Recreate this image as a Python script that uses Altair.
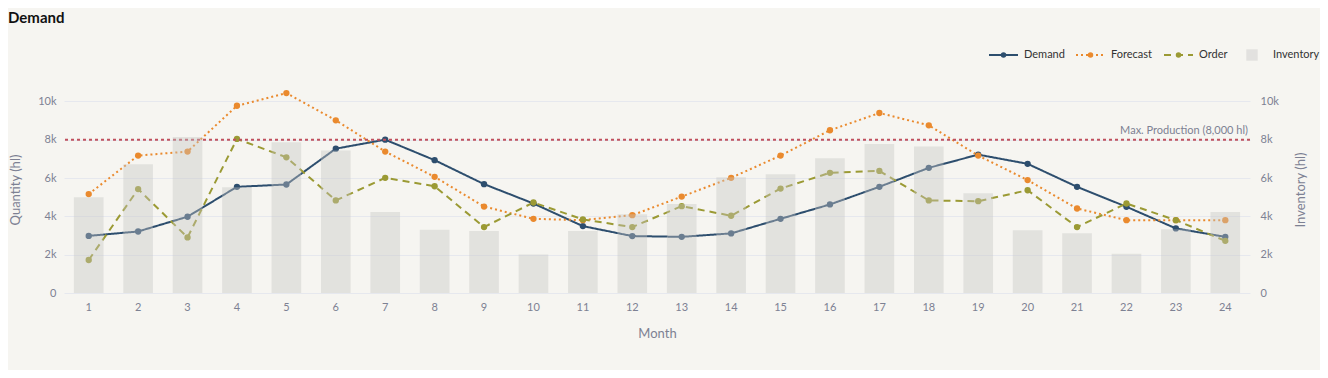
import altair as alt
import pandas as pd

months = list(range(1, 25))
demand = [2980, 3210, 3980, 5540, 5660, 7530, 8000, 6930, 5680, 4670, 3490, 2970,
          2930, 3110, 3870, 4620, 5540, 6530, 7220, 6740, 5540, 4500, 3370, 2930]
forecast = [5160, 7170, 7380, 9770, 10430, 9010, 7380, 6060, 4510, 3870, 3800, 4060,
            5030, 6010, 7170, 8490, 9390, 8750, 7170, 5890, 4410, 3800, 3800, 3800]
order = [1720, 5420, 2900, 8040, 7080, 4830, 6010, 5570, 3440, 4720, 3840, 3440,
         4530, 4030, 5450, 6270, 6370, 4830, 4790, 5360, 3440, 4670, 3800, 2720]
inventory = [5000, 6720, 8140, 5520, 7860, 7430, 4220, 3300, 3230, 2010, 3230, 4110,
             4640, 6040, 6200, 7030, 7780, 7640, 5210, 3280, 3120, 2050, 3330, 4220]
series_names = ["Demand", "Forecast", "Order"]
series_colors = ["#2d4e6e", "#ea8a2e", "#9b9a34"]
series_dash = [[1, 0], [2, 3], [7, 5]]
max_production = 8000

FONT = "Lato"
AXIS_COLOR = "#7d8193"

long_rows = []
for name, vals in zip(series_names, [demand, forecast, order]):
    for m, v in zip(months, vals):
        long_rows.append({"Month": m, "Series": name, "Value": v})
df_lines = pd.DataFrame(long_rows)
df_inv = pd.DataFrame({"Month": months, "Inventory": inventory})

W, H = 1186, 207
YMAX = 10800
yticks = [0, 2000, 4000, 6000, 8000, 10000]
label_expr = "datum.value == 0 ? '0' : (datum.value / 1000) + 'k'"

x_enc = alt.X("Month:O", scale=alt.Scale(paddingInner=0.4, paddingOuter=0.2),
              axis=alt.Axis(labelAngle=0, title="Month", labelColor=AXIS_COLOR, titleColor=AXIS_COLOR,
                            labelFontSize=11, titleFontSize=13, titleFontWeight="normal",
                            labelPadding=8, domain=False, ticks=False, grid=False,
                            titleY=40, titleBaseline="middle", labelFont=FONT, titleFont=FONT))

color_scale = alt.Scale(domain=series_names, range=series_colors)
dash_scale = alt.Scale(domain=series_names, range=series_dash)

y_left = alt.Y("Value:Q", scale=alt.Scale(domain=[0, YMAX], nice=False),
               axis=alt.Axis(title="Quantity (hl)", values=yticks, labelExpr=label_expr,
                             labelColor=AXIS_COLOR, titleColor=AXIS_COLOR, labelFontSize=11,
                             titleFontSize=13, titleFontWeight="normal", labelPadding=8,
                             domain=False, ticks=False, grid=True, gridColor="#e6e8ee",
                             titleX=-49, titleY=H / 2, titleAngle=-90, titleBaseline="middle",
                             titleAlign="center", labelFont=FONT, titleFont=FONT))

lines = alt.Chart(df_lines).mark_line(strokeWidth=2).encode(
    x=x_enc, y=y_left,
    color=alt.Color("Series:N", scale=color_scale, legend=None),
    strokeDash=alt.StrokeDash("Series:N", scale=dash_scale, legend=None),
)
points = alt.Chart(df_lines).mark_circle(size=40, opacity=1).encode(
    x=x_enc, y=alt.Y("Value:Q"),
    color=alt.Color("Series:N", scale=color_scale, legend=None),
)
rule = alt.Chart(pd.DataFrame({"v": [max_production]})).mark_rule(
    color="#c0505e", strokeDash=[3, 3], strokeWidth=2).encode(y=alt.Y("v:Q"))
rule_text = alt.Chart(pd.DataFrame({"v": [max_production], "t": ["Max. Production (8,000 hl)"]})).mark_text(
    align="right", baseline="bottom", dy=-4, fontSize=11, font=FONT, color=AXIS_COLOR).encode(
    y=alt.Y("v:Q"), x=alt.value(W - 2), text="t:N")

left = alt.layer(lines, points, rule, rule_text)

bars = alt.Chart(df_inv).mark_bar(color="#c6c5c4", opacity=0.4).encode(
    x=x_enc,
    y=alt.Y("Inventory:Q", scale=alt.Scale(domain=[0, YMAX], nice=False),
            axis=alt.Axis(orient="right", title="Inventory (hl)", values=yticks, labelExpr=label_expr,
                          labelColor=AXIS_COLOR, titleColor=AXIS_COLOR, labelFontSize=11,
                          titleFontSize=13, titleFontWeight="normal", labelPadding=10,
                          domain=False, ticks=False, grid=False,
                          titleX=50, titleY=H / 2, titleAngle=-90, titleBaseline="middle",
                          titleAlign="center", labelFont=FONT, titleFont=FONT)),
)

# title and legend (decoration)
OX, OY = 64, 86
dummy = pd.DataFrame({"a": [0]})
deco = []
deco.append(alt.Chart(dummy).mark_text(text="Demand", fontSize=15, fontWeight="bold", font=FONT,
                                        color="#111111", align="left", baseline="middle").encode(
    x=alt.value(8 - OX), y=alt.value(18 - OY)))
ly = 55 - OY
legend_items = [("Demand", 989, series_colors[0], None), ("Forecast", 1076, series_colors[1], [2, 3]),
                ("Order", 1164, series_colors[2], [7, 5])]
for name, px, col, dash in legend_items:
    kw = dict(color=col, strokeWidth=2)
    if dash:
        kw["strokeDash"] = dash
    deco.append(alt.Chart(dummy).mark_rule(**kw).encode(
        x=alt.value(px - OX), x2=alt.value(px + 29 - OX), y=alt.value(ly)))
    deco.append(alt.Chart(dummy).mark_circle(size=30, color=col, opacity=1).encode(
        x=alt.value(px + 14.5 - OX), y=alt.value(ly)))
    deco.append(alt.Chart(dummy).mark_text(text=name, fontSize=11, font=FONT, color="#333333",
                                            align="left", baseline="middle").encode(
        x=alt.value(px + 35 - OX), y=alt.value(ly)))
deco.append(alt.Chart(dummy).mark_square(size=130, color="#e2e1df", opacity=1).encode(
    x=alt.value(1252 - OX), y=alt.value(ly)))
deco.append(alt.Chart(dummy).mark_text(text="Inventory", fontSize=11, font=FONT, color="#333333",
                                        align="left", baseline="middle").encode(
    x=alt.value(1273 - OX), y=alt.value(ly)))

chart = alt.layer(left, bars, *deco).resolve_scale(y="independent").properties(
    width=W, height=H,
    autosize=alt.AutoSizeParams(type="none"),
    padding={"left": 56, "top": 78, "right": 70, "bottom": 77},
    background="#f6f5f1",
).configure_view(stroke=None)

chart.save("out.html", embed_options={"renderer": "svg", "actions": False})
